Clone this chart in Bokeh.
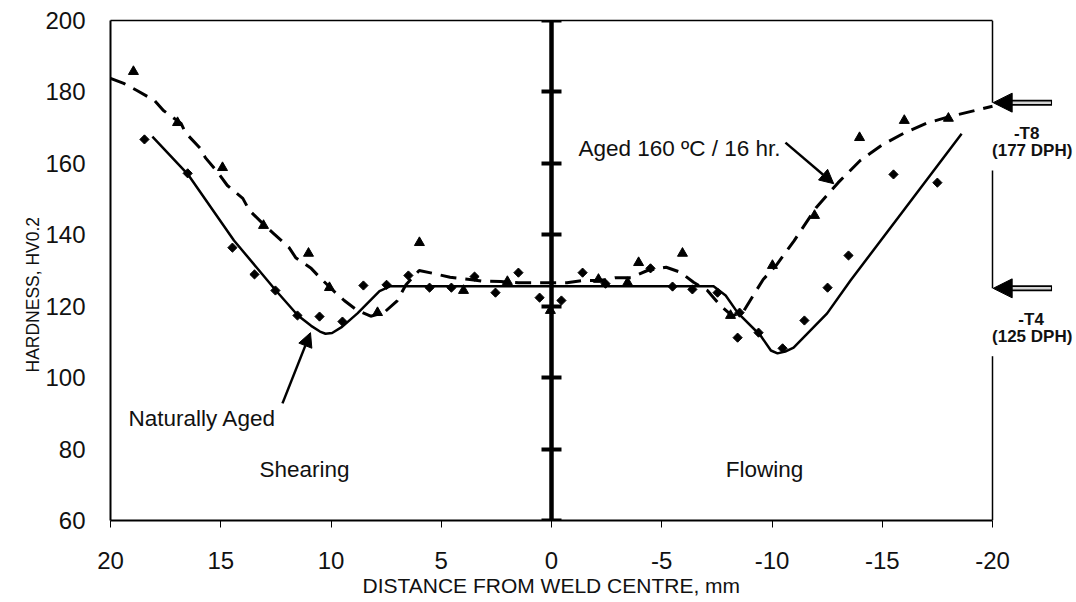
import numpy as np
from bokeh.plotting import figure
from bokeh.models import (Range1d, LinearAxis, FixedTicker, Arrow,
                          NormalHead, Title)
from bokeh.core.properties import value
from bokeh.embed import file_html
from bokeh.resources import INLINE

FONT = "Liberation Sans"

# ---- data ----
# Naturally aged hardness points (diamonds)
nat_x = [18.46, 16.5, 14.47, 13.47, 12.52, 11.52, 10.52, 9.48, 8.53, 7.48,
         6.49, 5.53, 4.54, 3.49, 2.54, 1.5, 0.54, -0.45, -1.41, -2.45,
         -4.49, -5.49, -6.39, -7.53, -8.53, -8.44, -9.39, -10.48, -11.47,
         -12.52, -13.47, -15.51, -17.5]
nat_y = [166.7, 157.2, 136.4, 128.9, 124.4, 117.4, 117.1, 115.7, 125.8, 126.0,
         128.6, 125.2, 125.2, 128.3, 123.8, 129.4, 122.4, 121.6, 129.4, 126.3,
         130.6, 125.5, 124.7, 123.8, 118.2, 111.2, 112.6, 108.2, 116.0,
         125.2, 134.2, 156.9, 154.6]

# Aged 160 C / 16 hr points (triangles)
aged_x = [18.96, 16.96, 14.92, 13.06, 11.02, 10.07, 7.89, 5.99, 3.99, 2.0,
          0.05, -2.13, -3.45, -3.95, -5.94, -8.12, -10.02, -11.93, -13.97,
          -16.0, -18.0]
aged_y = [185.7, 171.4, 158.8, 142.6, 134.8, 125.2, 118.2, 137.8, 124.4, 126.9,
          118.8, 127.5, 126.6, 132.2, 134.8, 117.4, 131.4, 145.4, 167.2,
          172.0, 172.6]

# Fitted trend of the naturally aged profile (solid)
nat_fit_x = [18.1, 16.5, 14.4, 12.5, 11.5, 10.9, 10.5, 10.25, 9.95, 9.5, 8.8,
             7.8, 7.3, 0.0, -7.35, -7.9, -8.44, -9.48, -9.95, -10.25, -10.6,
             -10.98, -12.5, -13.56, -16.0, -18.6]
nat_fit_y = [167.5, 157.0, 138.4, 124.4, 117.4, 114.5, 112.9, 112.3, 112.5,
             114.2, 118.0, 124.2, 125.6, 125.6, 125.6, 123.0, 118.2, 111.8,
             107.6, 106.8, 107.3, 108.4, 118.0, 127.2, 147.1, 168.3]

# Fitted trend of the aged profile (dashed)
aged_fit_x = [20.0, 19.4, 18.8, 18.0, 17.6, 16.8, 16.6, 15.9, 15.7, 15.1,
              14.7, 14.0, 13.7, 12.9, 12.65, 11.9, 11.6, 10.9, 10.5, 9.9,
              9.4, 8.8, 8.2, 7.6, 7.0, 6.6, 6.0, 5.3, 4.6, 3.7, 3.1, 2.3,
              1.5, 0.8, -0.2, -0.7, -1.45, -2.2, -2.9, -3.6, -4.35, -5.2,
              -5.85, -6.44, -7.07, -7.66, -8.2, -8.7, -9.1, -9.6, -10.2,
              -11.0, -12.0, -13.0, -14.0, -15.0, -16.0, -17.0, -18.0, -20.0]
aged_fit_y = [183.8, 182.4, 180.4, 177.6, 174.8, 171.2, 168.6, 164.0, 161.6,
              157.2, 153.8, 150.2, 146.8, 142.0, 140.6, 136.4, 133.6, 130.6,
              128.0, 124.4, 121.6, 118.8, 117.2, 118.2, 121.5, 126.0, 130.0,
              129.1, 128.1, 127.5, 127.0, 126.9, 126.6, 126.6, 126.6, 126.6,
              127.2, 127.2, 128.0, 128.0, 130.0, 130.9, 129.5, 126.7, 124.4,
              120.2, 117.3, 118.5, 122.5, 127.5, 131.5, 138.3, 147.6, 154.6,
              160.8, 165.2, 168.5, 171.2, 173.0, 176.0]

x_ticks = [20, 15, 10, 5, 0, -5, -10, -15, -20]
x_tick_labels = ["20", "15", "10", "5", "0", "-5", "-10", "-15", "-20"]
y_ticks = [60, 80, 100, 120, 140, 160, 180, 200]
y_tick_labels = ["60", "80", "100", "120", "140", "160", "180", "200"]

temper_levels = [177, 125]
temper_names = ["-T8", "-T4"]
temper_values = ["(177 DPH)", "(125 DPH)"]

X_MAX, X_MIN = 20, -20
Y_MIN, Y_MAX = 60, 200
X_EXTRA = 84 / 22.05          # room at the right for the temper markers

p = figure(width=1076, height=602,
           x_range=Range1d(X_MAX, X_MIN - X_EXTRA),
           y_range=Range1d(Y_MIN, Y_MAX),
           output_backend="svg", toolbar_location=None,
           min_border_left=110, min_border_right=0,
           min_border_top=20, min_border_bottom=82)
p.grid.visible = False
p.outline_line_color = None
p.background_fill_color = "white"

# bottom axis
xa = p.below[0]
xa.ticker = FixedTicker(ticks=x_ticks)
xa.major_label_overrides = {t: l for t, l in zip(x_ticks, x_tick_labels)}
xa.bounds = (X_MIN, X_MAX)
xa.axis_line_width = 2
xa.major_tick_in = 0
xa.major_tick_out = 7
xa.minor_tick_line_color = None
xa.major_label_text_font = FONT
xa.major_label_text_font_size = "24px"
xa.major_label_text_color = "#111111"
xa.major_label_standoff = 24

# left axis
ya = p.left[0]
ya.ticker = FixedTicker(ticks=y_ticks)
ya.major_label_overrides = {t: l for t, l in zip(y_ticks, y_tick_labels)}
ya.bounds = (Y_MIN, Y_MAX)
ya.axis_line_width = 2
ya.major_tick_line_color = None
ya.minor_tick_line_color = None
ya.major_label_text_font = FONT
ya.major_label_text_font_size = "24px"
ya.major_label_text_color = "#111111"
ya.major_label_standoff = 19

# top border
top = LinearAxis(ticker=FixedTicker(ticks=[]), bounds=(X_MIN, X_MAX),
                 axis_line_width=1.5, major_tick_line_color=None,
                 minor_tick_line_color=None)
p.add_layout(top, "above")

# central (weld centre) axis
centre = LinearAxis(fixed_location=0, bounds=(Y_MIN, Y_MAX),
                    ticker=FixedTicker(ticks=y_ticks),
                    major_label_overrides={t: "" for t in y_ticks},
                    axis_line_width=4.5, major_tick_line_width=4,
                    major_tick_in=10, major_tick_out=10,
                    minor_tick_line_color=None)
p.add_layout(centre, "left")

# axis titles
p.add_layout(Title(text="DISTANCE FROM WELD CENTRE, mm", align="left",
                   offset=252, standoff=0, text_font=FONT,
                   text_font_size="21px", text_font_style="normal",
                   text_color="#111111"), "below")
p.add_layout(Title(text="HARDNESS, HV0.2", align="left", offset=148,
                   standoff=0, text_font=FONT, text_font_size="17.5px",
                   text_font_style="normal", text_color="#111111"), "left")

# right border, interrupted by the temper labels
gap = 19
p.segment(x0=[X_MIN] * 3, x1=[X_MIN] * 3,
          y0=[Y_MAX, temper_levels[0] - gap, temper_levels[1] - gap],
          y1=[temper_levels[0], temper_levels[1], Y_MIN],
          line_color="black", line_width=1.5)

# fitted curves
p.line(aged_fit_x, aged_fit_y, line_color="black", line_width=3,
       line_dash="16 9")
p.line(nat_fit_x, nat_fit_y, line_color="black", line_width=2.5)

# measured points
p.scatter(nat_x, nat_y, marker="square", angle=np.pi / 4, size=6.5,
          fill_color="black", line_color="black")
p.scatter(aged_x, aged_y, marker="triangle", size=10,
          fill_color="black", line_color="black")

# temper reference arrows
for lvl in temper_levels:
    p.segment(x0=[X_MIN - 0.85], x1=[X_MIN - 2.7], y0=[lvl], y1=[lvl],
              line_color="black", line_width=6)
    p.segment(x0=[X_MIN - 0.85], x1=[X_MIN - 2.65], y0=[lvl], y1=[lvl],
              line_color="#d4d4d4", line_width=2.5)
    p.add_layout(Arrow(end=NormalHead(size=19, fill_color="black",
                                      line_color="black"),
                       x_start=X_MIN - 1.0, y_start=lvl,
                       x_end=X_MIN - 0.03, y_end=lvl,
                       line_alpha=0))

name_y = [lvl - 8.6 for lvl in temper_levels]
val_y = [lvl - 13.5 for lvl in temper_levels]
p.text(x=[-21.55, -21.75], y=name_y, text=temper_names,
       text_font=value(FONT), text_font_size="17px", text_font_style="bold",
       text_align="center", text_baseline="alphabetic", text_color="#111111")
p.text(x=[-21.8, -21.8], y=val_y, text=temper_values,
       text_font=value(FONT), text_font_size="17px", text_font_style="bold",
       text_align="center", text_baseline="alphabetic", text_color="#111111")

# annotations
p.text(x=[19.18], y=[88.6], text=["Naturally Aged"], text_font=value(FONT),
       text_font_size="22.5px", text_align="left", text_baseline="alphabetic",
       text_color="#111111")
p.add_layout(Arrow(end=NormalHead(size=14, fill_color="black",
                                  line_color="black"),
                   x_start=12.2, y_start=92.8, x_end=10.93, y_end=112.6,
                   line_width=2.5, line_color="black"))

p.text(x=[-1.22], y=[164.2], text=["Aged 160 ºC / 16 hr."],
       text_font=value(FONT), text_font_size="22.5px", text_align="left",
       text_baseline="alphabetic", text_color="#111111")
p.add_layout(Arrow(end=NormalHead(size=14, fill_color="black",
                                  line_color="black"),
                   x_start=-10.61, y_start=165.8, x_end=-12.8, y_end=154.3,
                   line_width=2.5, line_color="black"))

p.text(x=[11.2, -9.66], y=[74.3, 74.3], text=["Shearing", "Flowing"],
       text_font=value(FONT), text_font_size="22.5px", text_align="center",
       text_baseline="alphabetic", text_color="#111111")

open("out.html", "w").write(file_html(p, INLINE))
